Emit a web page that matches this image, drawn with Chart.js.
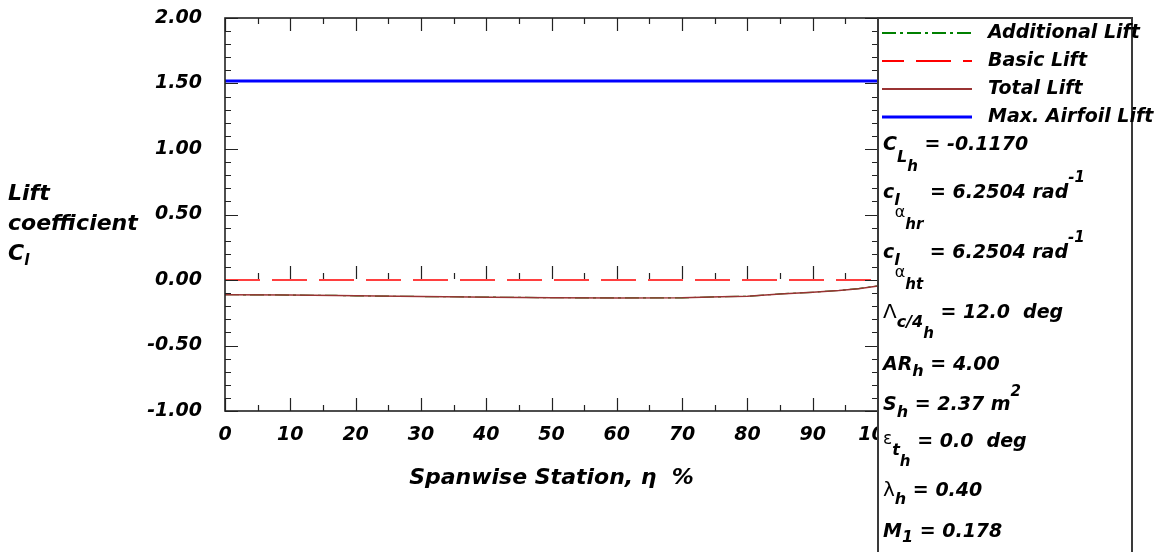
<!DOCTYPE html>
<html>
<head>
<meta charset="utf-8">
<script src="https://cdn.jsdelivr.net/npm/chart.js@4.4.1/dist/chart.umd.min.js"></script>
<style>
    body { margin: 0; background: #fff; }
    #wrap { position: relative; width: 1160px; height: 552px; }
    #chart { position: absolute; left: 0; top: 0; }
    .t { position: absolute; font: italic bold 19px 'DejaVu Sans', sans-serif; line-height: 19px; white-space: nowrap; color: #000; }
    .yt { position: absolute; font: italic bold 22px 'DejaVu Sans', sans-serif; line-height: 30px; white-space: nowrap; color: #000; }
    .s { position: relative; font-size: 16px; }
    .g { position: relative; font-style: normal; font-weight: normal; font-size: 16px; }
</style>
</head>
<body>
<div id="wrap">
    <canvas id="chart" width="1160" height="552"></canvas>

    <div class="yt" style="left:8px;top:178px">Lift<br>coefficient<br>C<span class="s" style="top:5px;font-size:15px">l</span></div>

    <div class="t" style="left:883px;top:134px">C<span class="s" style="top:12px">L<span class="s" style="top:9px;font-size:15px">h</span></span> = -0.1170</div>
    <div class="t" style="left:883px;top:182px">c<span class="s" style="top:7px">l<span class="g" style="top:12px;margin-left:-5px">α<span class="s" style="top:12px;font-size:15px;font-style:italic;font-weight:bold">hr</span></span></span> = 6.2504 rad<span class="s" style="top:-16px;font-size:15px">-1</span></div>
    <div class="t" style="left:883px;top:242px">c<span class="s" style="top:7px">l<span class="g" style="top:12px;margin-left:-5px">α<span class="s" style="top:12px;font-size:15px;font-style:italic;font-weight:bold">ht</span></span></span> = 6.2504 rad<span class="s" style="top:-16px;font-size:15px">-1</span></div>
    <div class="t" style="left:883px;top:302px"><span class="g" style="font-size:20px">Λ</span><span class="s" style="top:9px">c/4<span class="s" style="top:11px;font-size:15px">h</span></span> = 12.0&nbsp; deg</div>
    <div class="t" style="left:883px;top:354px">AR<span class="s" style="top:6px">h</span> = 4.00</div>
    <div class="t" style="left:883px;top:394px">S<span class="s" style="top:7px">h</span> = 2.37 m<span class="s" style="top:-14px;font-size:15px">2</span></div>
    <div class="t" style="left:883px;top:431px"><span class="g" style="top:-3px;font-size:17px">ε</span><span class="s" style="top:8px">t<span class="s" style="top:11px;font-size:15px">h</span></span> = 0.0&nbsp; deg</div>
    <div class="t" style="left:883px;top:480px"><span class="g" style="font-size:20px">λ</span><span class="s" style="top:8px">h</span> = 0.40</div>
    <div class="t" style="left:883px;top:521px">M<span class="s" style="top:5px">1</span> = 0.178</div>
</div>

<script>
    'use strict';

    // spanwise stations (eta, %) and lift coefficients
    const etaStations = [0, 10, 17, 20, 30, 41, 50, 60, 70, 76, 80, 85, 90, 94, 97, 100];
    const totalLift = [-0.112, -0.115, -0.118, -0.121, -0.126, -0.131, -0.135, -0.137, -0.136, -0.128, -0.124, -0.106, -0.094, -0.080, -0.066, -0.045];
    const additionalLift = [-0.112, -0.115, -0.118, -0.121, -0.126, -0.131, -0.135, -0.137, -0.136, -0.128, -0.124, -0.106, -0.094, -0.080, -0.066, -0.045];
    const basicLift = [0, 0, 0, 0, 0, 0, 0, 0, 0, 0, 0, 0, 0, 0, 0, 0];
    const maxLiftStations = [0, 100];
    const maxAirfoilLift = [1.52, 1.52];

    const seriesLabels = ['Additional Lift', 'Basic Lift', 'Total Lift', 'Max. Airfoil Lift'];
    const xTitle = 'Spanwise Station, η  %';

    const FONT = { family: "'DejaVu Sans', sans-serif", style: 'italic', weight: 'bold', size: 19 };

    function points(xs, ys) {
        return xs.map(function (x, i) {
            return { x: x, y: ys[i] };
        });
    }

    function noLabelPadding(scale) {
        scale.paddingTop = 0;
        scale.paddingBottom = 0;
        scale.paddingLeft = 0;
        scale.paddingRight = 0;
    }

    // frame with inward ticks, plus the tick row on the zero line
    const frameTicks = {
        id: 'frameTicks',
        afterDatasetsDraw: function (chart) {
            const { ctx, chartArea: a, scales: { x, y } } = chart;
            const y0 = Math.round(y.getPixelForValue(0));

            ctx.save();
            ctx.strokeStyle = '#222';
            ctx.lineWidth = 1.2;
            ctx.beginPath();
            for (let v = 0; v <= 100; v += 5) {
                const px = Math.round(x.getPixelForValue(v)) + 0.5;
                const len = v % 10 === 0 ? 13 : 6;
                ctx.moveTo(px, a.top);
                ctx.lineTo(px, a.top + len);
                ctx.moveTo(px, a.bottom);
                ctx.lineTo(px, a.bottom - len);
                if (v > 0 && v < 100) {
                    ctx.moveTo(px, y0 - 1);
                    ctx.lineTo(px, y0 - 1 - len);
                }
            }
            for (let i = -10; i <= 20; i++) {
                const py = Math.round(y.getPixelForValue(i / 10)) + 0.5;
                const len = i % 5 === 0 ? 13 : 6;
                ctx.moveTo(a.left, py);
                ctx.lineTo(a.left + len, py);
                ctx.moveTo(a.right, py);
                ctx.lineTo(a.right - len, py);
            }
            ctx.stroke();

            ctx.lineWidth = 1.6;
            ctx.strokeRect(a.left, a.top, a.right - a.left, a.bottom - a.top);
            ctx.restore();
        },
        afterDraw: function (chart) {
            const { ctx, chartArea: a } = chart;
            const boxW = 254;

            ctx.save();
            ctx.fillStyle = '#fff';
            ctx.fillRect(a.right, a.top, boxW, chart.height - a.top + 5);
            ctx.strokeStyle = '#3a3a3a';
            ctx.lineWidth = 2;
            ctx.strokeRect(a.right, a.top, boxW, chart.height - a.top + 5);

            ctx.font = 'italic bold 19px "DejaVu Sans", sans-serif';
            ctx.textBaseline = 'middle';
            ctx.textAlign = 'left';
            chart.data.datasets.forEach(function (ds, i) {
                const rowY = Math.round(a.top + 15 + i * 28);
                ctx.beginPath();
                ctx.setLineDash(ds.borderDash || []);
                ctx.lineDashOffset = ds.legendDashOffset || 0;
                ctx.strokeStyle = ds.borderColor;
                ctx.lineWidth = ds.borderWidth < 2 ? 2 : ds.borderWidth;
                ctx.moveTo(a.right + 4, rowY);
                ctx.lineTo(a.right + 94, rowY);
                ctx.stroke();
                ctx.setLineDash([]);
                ctx.fillStyle = '#000';
                ctx.fillText(ds.label, a.right + 110, rowY);
            });
            ctx.restore();
        },
    };

    new Chart(document.getElementById('chart'), {
        type: 'line',
        data: {
            datasets: [
                {
                    label: seriesLabels[0],
                    data: points(etaStations, additionalLift),
                    borderColor: '#008000',
                    borderWidth: 1.2,
                    borderDash: [14, 4, 3, 4],
                    order: 4,
                },
                {
                    label: seriesLabels[1],
                    data: points(etaStations, basicLift),
                    borderColor: '#ff0000',
                    borderWidth: 1.5,
                    borderDash: [35, 12],
                    legendDashOffset: 13,
                    order: 3,
                },
                {
                    label: seriesLabels[2],
                    data: points(etaStations, totalLift),
                    borderColor: '#993333',
                    borderWidth: 1.5,
                    order: 2,
                },
                {
                    label: seriesLabels[3],
                    data: points(maxLiftStations, maxAirfoilLift),
                    borderColor: '#0000ff',
                    borderWidth: 3,
                    order: 1,
                },
            ],
        },
        options: {
            responsive: false,
            animation: false,
            layout: { padding: { top: 18, right: 282, left: 0, bottom: 0 } },
            elements: { point: { radius: 0 }, line: { tension: 0 } },
            plugins: {
                legend: { display: false },
                tooltip: { enabled: false },
            },
            scales: {
                x: {
                    type: 'linear',
                    min: 0,
                    max: 100,
                    grid: { display: false, drawTicks: false },
                    border: { display: false },
                    ticks: { stepSize: 10, padding: 13, color: '#000', font: FONT, maxRotation: 0, autoSkip: false },
                    title: {
                        display: true,
                        text: xTitle,
                        color: '#000',
                        font: { family: FONT.family, style: 'italic', weight: 'bold', size: 22 },
                        padding: { top: 0, bottom: 61 },
                    },
                    afterFit: function (scale) {
                        scale.height = 141;
                        noLabelPadding(scale);
                    },
                },
                y: {
                    type: 'linear',
                    min: -1,
                    max: 2,
                    grid: { display: false, drawTicks: false },
                    border: { display: false },
                    ticks: {
                        stepSize: 0.5,
                        padding: 23,
                        color: '#000',
                        font: FONT,
                        callback: function (v) {
                            return Number(v).toFixed(2);
                        },
                    },
                    afterFit: function (scale) {
                        scale.width = 225;
                        noLabelPadding(scale);
                    },
                },
            },
        },
        plugins: [frameTicks],
    });
</script>
</body>
</html>
